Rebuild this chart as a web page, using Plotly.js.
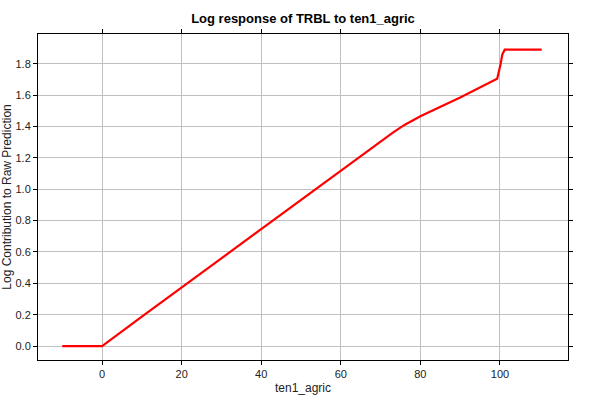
<!DOCTYPE html>
<html>
<head>
<meta charset="utf-8">
<script src="https://cdn.plot.ly/plotly-3.0.1.min.js"></script>
<style>html,body{margin:0;padding:0;background:#fff;}#chart{width:600px;height:400px;}</style>
</head>
<body>
<div id="chart"></div>
<script>
var xValues = [-10, 0, 10, 20, 30, 40, 50, 60, 70, 73, 76, 80, 90, 99.3, 100.1, 100.6, 101.2, 110.5];
var yValues = [0, 0, 0.187, 0.373, 0.56, 0.747, 0.934, 1.12, 1.307, 1.36, 1.41, 1.465, 1.585, 1.705, 1.79, 1.86, 1.89, 1.89];
var xTicks = [0, 20, 40, 60, 80, 100];
var yTicks = [0, 0.2, 0.4, 0.6, 0.8, 1.0, 1.2, 1.4, 1.6, 1.8];

var trace = {
  x: xValues, y: yValues, mode: 'lines', type: 'scatter',
  line: {color: '#ff0000', width: 2.2}, hoverinfo: 'skip'
};
var font = {family: 'Liberation Sans, Arial, sans-serif', size: 11, color: '#222'};
var layout = {
  width: 600, height: 400,
  margin: {l: 38, r: 32, t: 34, b: 40},
  paper_bgcolor: '#fff', plot_bgcolor: '#fff',
  showlegend: false,
  font: font,
  title: {text: 'Log response of TRBL to ten1_agric', x: 0.505, xanchor: 'center', y: 0.955, yanchor: 'middle',
          font: {family: 'Liberation Sans, Arial, sans-serif', size: 13, color: '#000', weight: 'bold'}},
  xaxis: {
    range: [-16.1, 117.1], tickvals: xTicks, ticktext: xTicks.map(String),
    showgrid: true, gridcolor: '#c0c0c0', gridwidth: 1, zeroline: false,
    showline: true, linecolor: '#000', linewidth: 1, mirror: 'ticks',
    ticks: 'outside', ticklen: 4, tickcolor: '#000',
    tickfont: font,
    title: {text: 'ten1_agric', font: {family: 'Liberation Sans, Arial, sans-serif', size: 12, color: '#222'}, standoff: 4}
  },
  yaxis: {
    range: [-0.089, 1.99], tickvals: yTicks, ticktext: yTicks.map(function(v){return v.toFixed(1);}),
    showgrid: true, gridcolor: '#c0c0c0', gridwidth: 1, zeroline: false,
    showline: true, linecolor: '#000', linewidth: 1, mirror: 'ticks',
    ticks: 'outside', ticklen: 4, tickcolor: '#000',
    tickfont: font,
    title: {text: 'Log Contribution to Raw Prediction', font: {family: 'Liberation Sans, Arial, sans-serif', size: 12, color: '#222'}, standoff: 6}
  }
};
Plotly.newPlot('chart', [trace], layout, {displayModeBar: false, staticPlot: true});
</script>
</body>
</html>
